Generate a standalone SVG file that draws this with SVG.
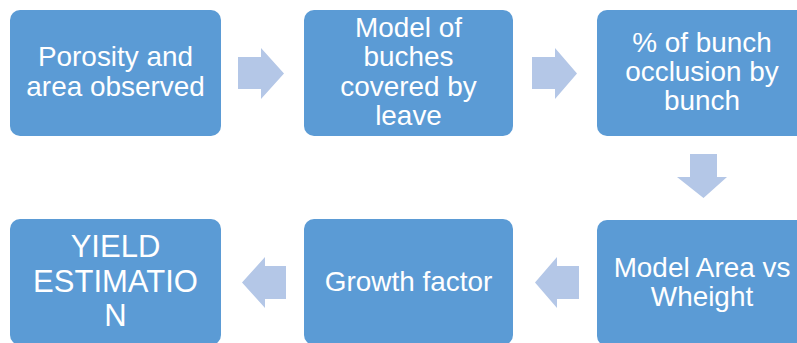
<svg xmlns="http://www.w3.org/2000/svg" width="797" height="343" viewBox="0 0 797 343">
<style>
.box{fill:#5B9BD5;}
.arr{fill:#B4C7E7;}
.t{font-family:"Liberation Sans",Arial,sans-serif;font-size:27.9px;fill:#FFFFFF;text-anchor:middle;}
.big{font-size:31px;}
</style>
<rect width="797" height="343" fill="#FFFFFF"/>
<g id="connectors">
<polygon class="arr" points="238,57 261,57 261,48 284,73.5 261,99 261,89 238,89"/>
<polygon class="arr" points="532,57 555,57 555,48 577,73.5 555,99 555,89 532,89"/>
<polygon class="arr" points="690,154 717,154 717,177 727,177 703.5,198 677,177 690,177"/>
<polygon class="arr" points="579,266 557,266 557,257 535,282.5 557,308 557,299 579,299"/>
<polygon class="arr" points="286,266 265,266 265,257 242,282.5 265,308 265,299 286,299"/>
</g>
<g id="n1">
<rect class="box" x="10" y="10" width="211" height="126" rx="10"/>
<text class="t" x="115.5" y="66">Porosity and</text>
<text class="t" x="115.5" y="96">area observed</text>
</g>
<g id="n2">
<rect class="box" x="304" y="10" width="209" height="126" rx="10"/>
<text class="t" x="408.5" y="37">Model of</text>
<text class="t" x="408.5" y="66">buches</text>
<text class="t" x="408.5" y="95.5">covered by</text>
<text class="t" x="408.5" y="125">leave</text>
</g>
<g id="n3">
<rect class="box" x="597" y="10" width="210" height="126" rx="10"/>
<text class="t" x="702" y="52">% of bunch</text>
<text class="t" x="702" y="81">occlusion by</text>
<text class="t" x="702" y="110">bunch</text>
</g>
<g id="n4">
<rect class="box" x="597" y="220" width="210" height="126" rx="10"/>
<text class="t" x="702" y="277">Model Area vs</text>
<text class="t" x="702" y="306">Wheight</text>
</g>
<g id="n5">
<rect class="box" x="304" y="219" width="209" height="126" rx="10"/>
<text class="t" x="408.5" y="291">Growth factor</text>
</g>
<g id="n6">
<rect class="box" x="10" y="219" width="211" height="126" rx="10"/>
<text class="t big" x="115.5" y="257">YIELD</text>
<text class="t big" x="115.5" y="292">ESTIMATIO</text>
<text class="t big" x="115.5" y="326">N</text>
</g>
</svg>
